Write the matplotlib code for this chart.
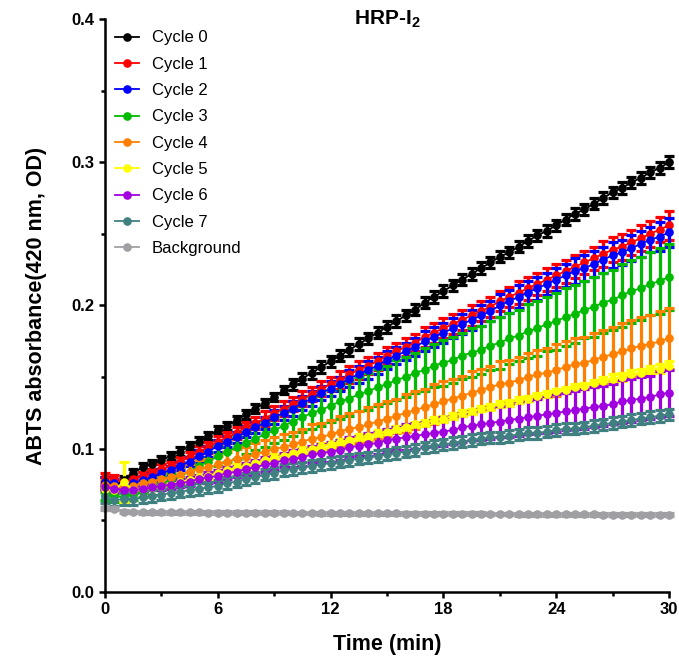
import numpy as np
import matplotlib
matplotlib.use("Agg")
import matplotlib.pyplot as plt
from matplotlib.ticker import MultipleLocator

plt.rcParams['font.family'] = ['Liberation Sans', 'DejaVu Sans']
plt.rcParams['mathtext.fontset'] = 'custom'
plt.rcParams['mathtext.rm'] = 'Liberation Sans:bold'
plt.rcParams['mathtext.bf'] = 'Liberation Sans:bold'

# time points, every 0.5 min
time = np.arange(0, 30.5, 0.5)

labels = ['Cycle 0', 'Cycle 1', 'Cycle 2', 'Cycle 3', 'Cycle 4',
          'Cycle 5', 'Cycle 6', 'Cycle 7', 'Background']
colors = ['#000000', '#FF0000', '#0000FF', '#00BB00', '#FF8000',
          '#FFFF00', '#A000E0', '#408080', '#A0A0A4']

cycle0 = [0.077, 0.074, 0.078, 0.083, 0.087, 0.089, 0.092, 0.095, 0.098, 0.102,
          0.105, 0.109, 0.113, 0.116, 0.120, 0.124, 0.128, 0.132, 0.136, 0.141,
          0.145, 0.149, 0.153, 0.157, 0.161, 0.165, 0.169, 0.173, 0.177, 0.181,
          0.185, 0.189, 0.193, 0.197, 0.202, 0.206, 0.210, 0.214, 0.218, 0.222,
          0.226, 0.230, 0.234, 0.237, 0.241, 0.245, 0.249, 0.252, 0.256, 0.260,
          0.264, 0.267, 0.271, 0.275, 0.279, 0.282, 0.286, 0.289, 0.293, 0.296,
          0.300]
cycle1 = [0.080, 0.079, 0.076, 0.079, 0.081, 0.083, 0.086, 0.088, 0.091, 0.094,
          0.098, 0.101, 0.105, 0.108, 0.111, 0.115, 0.118, 0.121, 0.125, 0.128,
          0.131, 0.135, 0.138, 0.142, 0.145, 0.148, 0.152, 0.155, 0.158, 0.161,
          0.165, 0.168, 0.171, 0.174, 0.178, 0.181, 0.184, 0.187, 0.190, 0.193,
          0.196, 0.199, 0.203, 0.206, 0.209, 0.212, 0.215, 0.218, 0.221, 0.224,
          0.227, 0.230, 0.233, 0.236, 0.239, 0.241, 0.244, 0.247, 0.250, 0.253,
          0.256]
cycle2 = [0.077, 0.076, 0.074, 0.076, 0.078, 0.080, 0.083, 0.085, 0.088, 0.091,
          0.095, 0.098, 0.102, 0.105, 0.108, 0.112, 0.115, 0.118, 0.122, 0.125,
          0.128, 0.132, 0.135, 0.139, 0.142, 0.145, 0.149, 0.152, 0.155, 0.158,
          0.162, 0.165, 0.168, 0.171, 0.175, 0.178, 0.181, 0.184, 0.187, 0.190,
          0.193, 0.196, 0.200, 0.203, 0.206, 0.209, 0.212, 0.215, 0.218, 0.221,
          0.224, 0.226, 0.229, 0.232, 0.235, 0.237, 0.240, 0.243, 0.246, 0.248,
          0.251]
cycle3 = [0.068, 0.067, 0.066, 0.068, 0.070, 0.073, 0.076, 0.078, 0.081, 0.084,
          0.088, 0.091, 0.095, 0.098, 0.101, 0.104, 0.107, 0.110, 0.113, 0.116,
          0.119, 0.122, 0.125, 0.127, 0.130, 0.133, 0.135, 0.138, 0.140, 0.143,
          0.145, 0.148, 0.150, 0.153, 0.155, 0.158, 0.160, 0.162, 0.165, 0.167,
          0.169, 0.172, 0.174, 0.177, 0.179, 0.182, 0.184, 0.187, 0.189, 0.192,
          0.194, 0.197, 0.199, 0.202, 0.204, 0.207, 0.210, 0.212, 0.215, 0.217,
          0.220]
cycle4 = [0.075, 0.074, 0.073, 0.074, 0.076, 0.077, 0.079, 0.080, 0.082, 0.084,
          0.086, 0.087, 0.089, 0.091, 0.093, 0.094, 0.096, 0.098, 0.100, 0.101,
          0.103, 0.105, 0.107, 0.108, 0.110, 0.112, 0.114, 0.115, 0.117, 0.119,
          0.121, 0.123, 0.125, 0.127, 0.129, 0.131, 0.133, 0.135, 0.137, 0.139,
          0.141, 0.143, 0.145, 0.146, 0.148, 0.150, 0.152, 0.153, 0.155, 0.157,
          0.159, 0.160, 0.162, 0.164, 0.166, 0.168, 0.170, 0.172, 0.173, 0.175,
          0.177]
cycle5 = [0.072, 0.071, 0.077, 0.071, 0.072, 0.073, 0.074, 0.075, 0.077, 0.078,
          0.080, 0.081, 0.083, 0.085, 0.087, 0.088, 0.090, 0.092, 0.094, 0.095,
          0.097, 0.099, 0.100, 0.102, 0.103, 0.105, 0.106, 0.108, 0.109, 0.111,
          0.112, 0.114, 0.115, 0.117, 0.118, 0.120, 0.121, 0.123, 0.125, 0.126,
          0.128, 0.129, 0.131, 0.132, 0.134, 0.135, 0.137, 0.138, 0.140, 0.141,
          0.143, 0.144, 0.146, 0.147, 0.149, 0.150, 0.152, 0.153, 0.155, 0.156,
          0.158]
cycle6 = [0.073, 0.072, 0.071, 0.071, 0.072, 0.073, 0.074, 0.075, 0.076, 0.077,
          0.079, 0.080, 0.081, 0.083, 0.084, 0.086, 0.087, 0.089, 0.090, 0.092,
          0.093, 0.094, 0.096, 0.097, 0.098, 0.099, 0.101, 0.102, 0.103, 0.104,
          0.106, 0.107, 0.108, 0.109, 0.110, 0.111, 0.112, 0.113, 0.115, 0.116,
          0.117, 0.118, 0.119, 0.120, 0.121, 0.122, 0.123, 0.124, 0.125, 0.126,
          0.127, 0.128, 0.129, 0.130, 0.131, 0.133, 0.134, 0.135, 0.136, 0.138,
          0.139]
cycle7 = [0.066, 0.064, 0.065, 0.065, 0.066, 0.067, 0.068, 0.069, 0.070, 0.071,
          0.072, 0.073, 0.074, 0.076, 0.077, 0.079, 0.080, 0.082, 0.083, 0.085,
          0.086, 0.087, 0.088, 0.089, 0.090, 0.091, 0.092, 0.093, 0.094, 0.095,
          0.096, 0.097, 0.098, 0.099, 0.101, 0.102, 0.103, 0.104, 0.105, 0.106,
          0.107, 0.108, 0.108, 0.109, 0.110, 0.111, 0.111, 0.112, 0.113, 0.114,
          0.114, 0.115, 0.116, 0.117, 0.118, 0.119, 0.120, 0.121, 0.122, 0.123,
          0.124]
background = [0.0585, 0.0580, 0.0560, 0.0558, 0.0557, 0.0557, 0.0556, 0.0556, 0.0555, 0.0555,
              0.0555, 0.0554, 0.0554, 0.0554, 0.0553, 0.0553, 0.0553, 0.0552, 0.0552, 0.0552,
              0.0551, 0.0551, 0.0551, 0.0550, 0.0550, 0.0550, 0.0549, 0.0549, 0.0549, 0.0548,
              0.0548, 0.0548, 0.0547, 0.0547, 0.0547, 0.0546, 0.0546, 0.0546, 0.0545, 0.0545,
              0.0545, 0.0544, 0.0544, 0.0544, 0.0543, 0.0543, 0.0543, 0.0542, 0.0542, 0.0542,
              0.0541, 0.0541, 0.0541, 0.0540, 0.0540, 0.0540, 0.0539, 0.0539, 0.0539, 0.0538,
              0.0538]

# error bars (SD)
err0 = [0.003, 0.003, 0.003, 0.003, 0.003, 0.003, 0.003, 0.003, 0.003, 0.003,
        0.003, 0.003, 0.003, 0.003, 0.003, 0.003, 0.003, 0.003, 0.003, 0.003,
        0.004, 0.004, 0.004, 0.004, 0.004, 0.004, 0.004, 0.004, 0.004, 0.004,
        0.004, 0.004, 0.004, 0.004, 0.004, 0.004, 0.004, 0.004, 0.004, 0.004,
        0.004, 0.004, 0.004, 0.004, 0.004, 0.004, 0.004, 0.004, 0.004, 0.004,
        0.004, 0.004, 0.004, 0.004, 0.004, 0.004, 0.004, 0.004, 0.004, 0.004,
        0.004]
err1 = [0.003, 0.003, 0.003, 0.003, 0.003, 0.003, 0.003, 0.003, 0.003, 0.004,
        0.004, 0.004, 0.004, 0.004, 0.004, 0.004, 0.004, 0.005, 0.005, 0.005,
        0.005, 0.005, 0.005, 0.005, 0.005, 0.006, 0.006, 0.006, 0.006, 0.006,
        0.006, 0.006, 0.006, 0.006, 0.007, 0.007, 0.007, 0.007, 0.007, 0.007,
        0.007, 0.007, 0.007, 0.007, 0.008, 0.008, 0.008, 0.008, 0.008, 0.008,
        0.008, 0.008, 0.008, 0.009, 0.009, 0.009, 0.009, 0.009, 0.009, 0.009,
        0.010]
err2 = [0.003, 0.003, 0.003, 0.003, 0.003, 0.003, 0.003, 0.003, 0.003, 0.003,
        0.004, 0.004, 0.004, 0.004, 0.004, 0.004, 0.004, 0.004, 0.005, 0.005,
        0.005, 0.005, 0.005, 0.005, 0.005, 0.005, 0.006, 0.006, 0.006, 0.006,
        0.006, 0.006, 0.006, 0.006, 0.007, 0.007, 0.007, 0.007, 0.007, 0.007,
        0.007, 0.007, 0.008, 0.008, 0.008, 0.008, 0.008, 0.008, 0.008, 0.008,
        0.009, 0.009, 0.009, 0.009, 0.009, 0.009, 0.009, 0.009, 0.009, 0.010,
        0.010]
err3 = [0.004, 0.004, 0.004, 0.004, 0.004, 0.005, 0.005, 0.005, 0.006, 0.006,
        0.006, 0.007, 0.007, 0.007, 0.008, 0.008, 0.008, 0.009, 0.009, 0.010,
        0.010, 0.010, 0.011, 0.011, 0.011, 0.012, 0.012, 0.012, 0.013, 0.013,
        0.013, 0.014, 0.014, 0.014, 0.015, 0.015, 0.016, 0.016, 0.016, 0.017,
        0.017, 0.017, 0.018, 0.018, 0.018, 0.019, 0.019, 0.019, 0.020, 0.020,
        0.020, 0.020, 0.021, 0.021, 0.021, 0.022, 0.022, 0.022, 0.022, 0.023,
        0.023]
err4 = [0.003, 0.003, 0.003, 0.003, 0.004, 0.004, 0.004, 0.005, 0.005, 0.005,
        0.006, 0.006, 0.006, 0.007, 0.007, 0.007, 0.008, 0.008, 0.008, 0.009,
        0.009, 0.009, 0.010, 0.010, 0.010, 0.011, 0.011, 0.011, 0.012, 0.012,
        0.012, 0.012, 0.013, 0.013, 0.013, 0.014, 0.014, 0.014, 0.014, 0.015,
        0.015, 0.015, 0.016, 0.016, 0.016, 0.017, 0.017, 0.017, 0.018, 0.018,
        0.018, 0.018, 0.019, 0.019, 0.019, 0.020, 0.020, 0.020, 0.020, 0.021,
        0.021]
err5 = [0.002, 0.002, 0.014, 0.002, 0.002, 0.002, 0.002, 0.002, 0.002, 0.002,
        0.002, 0.002, 0.002, 0.002, 0.002, 0.002, 0.002, 0.002, 0.002, 0.002,
        0.002, 0.002, 0.002, 0.002, 0.002, 0.002, 0.002, 0.002, 0.002, 0.002,
        0.002, 0.002, 0.002, 0.002, 0.002, 0.002, 0.002, 0.002, 0.002, 0.002,
        0.002, 0.002, 0.002, 0.002, 0.002, 0.002, 0.002, 0.002, 0.002, 0.002,
        0.002, 0.002, 0.002, 0.003, 0.003, 0.003, 0.003, 0.003, 0.003, 0.003,
        0.003]
err6 = [0.002, 0.002, 0.002, 0.002, 0.002, 0.002, 0.003, 0.003, 0.003, 0.003,
        0.003, 0.004, 0.004, 0.004, 0.004, 0.004, 0.005, 0.005, 0.005, 0.005,
        0.006, 0.006, 0.006, 0.006, 0.007, 0.007, 0.007, 0.007, 0.008, 0.008,
        0.008, 0.008, 0.009, 0.009, 0.009, 0.009, 0.010, 0.010, 0.010, 0.010,
        0.011, 0.011, 0.011, 0.012, 0.012, 0.012, 0.012, 0.013, 0.013, 0.013,
        0.013, 0.014, 0.014, 0.014, 0.014, 0.015, 0.015, 0.015, 0.015, 0.016,
        0.016]
err7 = [0.004, 0.004, 0.004, 0.004, 0.004, 0.004, 0.004, 0.004, 0.004, 0.004,
        0.004, 0.004, 0.004, 0.004, 0.004, 0.004, 0.004, 0.004, 0.004, 0.004,
        0.004, 0.004, 0.004, 0.004, 0.004, 0.004, 0.004, 0.004, 0.004, 0.004,
        0.004, 0.004, 0.004, 0.004, 0.004, 0.004, 0.004, 0.004, 0.004, 0.004,
        0.004, 0.004, 0.004, 0.004, 0.004, 0.004, 0.004, 0.004, 0.004, 0.004,
        0.004, 0.004, 0.004, 0.004, 0.004, 0.004, 0.004, 0.004, 0.004, 0.004,
        0.004]
err_bg = [0.001] * len(time)

series = [cycle0, cycle1, cycle2, cycle3, cycle4, cycle5, cycle6, cycle7, background]
errors = [err0, err1, err2, err3, err4, err5, err6, err7, err_bg]

fig = plt.figure(figsize=(6.79, 6.65), dpi=100)
ax = fig.add_axes([0.1546, 0.1098, 0.8307, 0.8617])

handles = []
for y, e, c, lab in zip(series, errors, colors, labels):
    cont = ax.errorbar(time, y, yerr=e, fmt='-o', color=c, ecolor=c,
                       lw=1.3, ms=5.2, elinewidth=2.3, capsize=3.3, capthick=2.3,
                       label=lab, clip_on=False)
    handles.append(cont[0])

ax.set_xlim(0, 30)
ax.set_ylim(0, 0.4)
ax.xaxis.set_major_locator(MultipleLocator(6))
ax.xaxis.set_minor_locator(MultipleLocator(3))
ax.yaxis.set_major_locator(MultipleLocator(0.1))
ax.yaxis.set_minor_locator(MultipleLocator(0.05))
ax.yaxis.set_major_formatter(plt.FuncFormatter(lambda v, p: f'{v:.1f}'))

for s in ['top', 'right']:
    ax.spines[s].set_visible(False)
for s in ['left', 'bottom']:
    ax.spines[s].set_linewidth(1.8)
ax.tick_params(which='major', length=4.5, width=1.8, direction='out', labelsize=12, pad=3)
ax.tick_params(which='minor', length=3, width=1.8, direction='out')
for t in ax.get_xticklabels() + ax.get_yticklabels():
    t.set_fontweight('bold')

ax.set_xlabel('Time (min)', fontsize=15.5, fontweight='bold', labelpad=12)
ax.set_ylabel('ABTS absorbance(420 nm, OD)', fontsize=15.5, fontweight='bold', labelpad=18)
ax.text(0.50, 1.0, r'HRP-I$_\mathbf{2}$', transform=ax.transAxes, ha='center', va='center',
        fontsize=15, fontweight='bold')

ax.legend(handles=handles, labels=labels, loc='upper left', bbox_to_anchor=(0.0177, 0.980),
          frameon=False, fontsize=12, borderpad=0, borderaxespad=0, handlelength=1.45,
          handletextpad=0.78, labelspacing=0.68)

fig.savefig('out.png', dpi=100)
